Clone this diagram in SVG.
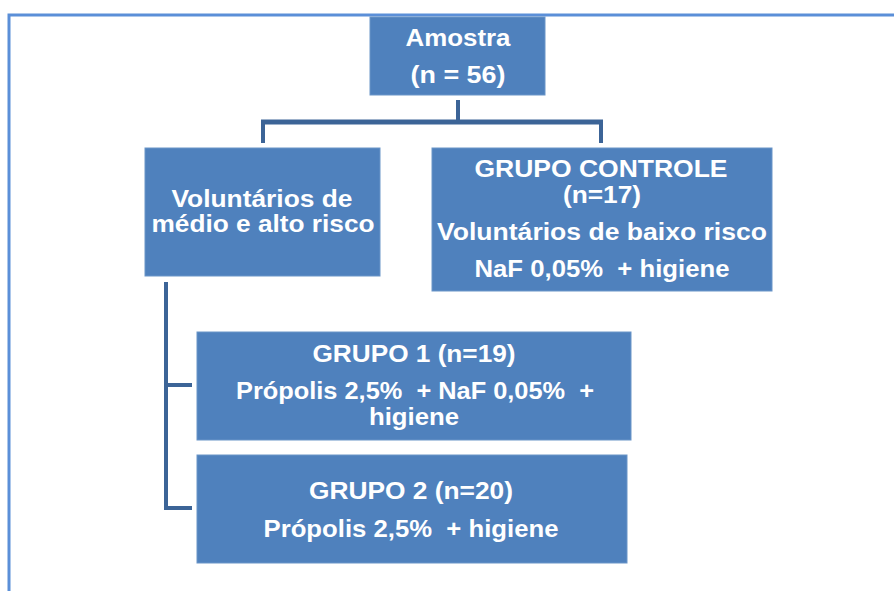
<svg xmlns="http://www.w3.org/2000/svg" width="894" height="591" viewBox="0 0 894 591">
<style>
.box{fill:#4f81bd;stroke:#6a95c8;stroke-width:1}
.t{font-family:"Liberation Sans",Arial,sans-serif;font-weight:bold;fill:#ffffff;text-anchor:middle;white-space:pre}
.c{stroke:#3c6497;fill:none;stroke-linecap:butt}
.frame{stroke:#5b8fd8;stroke-width:3;fill:none}
</style>
<rect x="0" y="0" width="894" height="591" fill="#ffffff"/>
<path class="frame" d="M9,591 V15 H894"/>
<g id="connectors">
<path class="c" stroke-width="4" d="M458,100 V122"/>
<path class="c" stroke-width="5" d="M261,122 H603"/>
<path class="c" stroke-width="4" d="M263,122 V143 M601,122 V143"/>
<path class="c" stroke-width="4" d="M166,282 V509 M164,385 H192 M164,508 H192"/>
</g>
<g id="amostra">
<rect class="box" x="370" y="17" width="175" height="78"/>
<text class="t" x="458" y="46" font-size="24" textLength="105" lengthAdjust="spacingAndGlyphs">Amostra</text>
<text class="t" x="458" y="83" font-size="24" textLength="95" lengthAdjust="spacingAndGlyphs">(n = 56)</text>
</g>
<g id="risco">
<rect class="box" x="145" y="148" width="235" height="128"/>
<text class="t" x="262" y="207" font-size="23" textLength="181" lengthAdjust="spacingAndGlyphs">Voluntários de</text>
<text class="t" x="263" y="232" font-size="23" textLength="223" lengthAdjust="spacingAndGlyphs">médio e alto risco</text>
</g>
<g id="controle">
<rect class="box" x="432" y="148" width="340" height="143"/>
<text class="t" x="601" y="177" font-size="23" textLength="253" lengthAdjust="spacingAndGlyphs">GRUPO CONTROLE</text>
<text class="t" x="602" y="203" font-size="23" textLength="78" lengthAdjust="spacingAndGlyphs">(n=17)</text>
<text class="t" x="602" y="240" font-size="23" textLength="330" lengthAdjust="spacingAndGlyphs">Voluntários de baixo risco</text>
<text class="t" x="602" y="277" font-size="23" textLength="255" lengthAdjust="spacingAndGlyphs">NaF 0,05%  + higiene</text>
</g>
<g id="grupo1">
<rect class="box" x="197" y="332" width="434" height="108"/>
<text class="t" x="414" y="362" font-size="23" textLength="203" lengthAdjust="spacingAndGlyphs">GRUPO 1 (n=19)</text>
<text class="t" x="415" y="399" font-size="23" textLength="358" lengthAdjust="spacingAndGlyphs">Própolis 2,5%  + NaF 0,05%  +</text>
<text class="t" x="414" y="425" font-size="23" textLength="90" lengthAdjust="spacingAndGlyphs">higiene</text>
</g>
<g id="grupo2">
<rect class="box" x="197" y="455" width="430" height="108"/>
<text class="t" x="411" y="499" font-size="23" textLength="204" lengthAdjust="spacingAndGlyphs">GRUPO 2 (n=20)</text>
<text class="t" x="411" y="537" font-size="23" textLength="295" lengthAdjust="spacingAndGlyphs">Própolis 2,5%  + higiene</text>
</g>
</svg>
